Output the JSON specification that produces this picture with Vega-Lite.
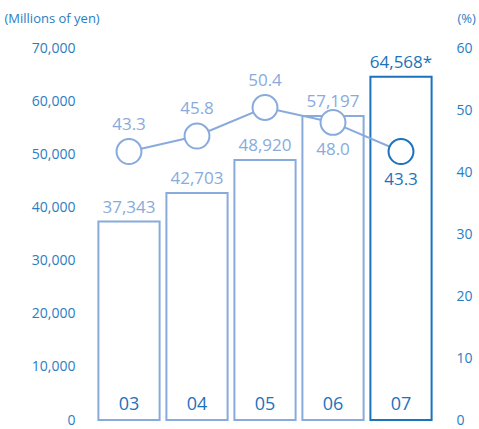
{
  "$schema": "https://vega.github.io/schema/vega-lite/v6.json",
  "autosize": "none",
  "width": 340,
  "height": 372,
  "padding": {"left": 95, "top": 48, "right": 44, "bottom": 9},
  "background": "white",
  "config": {
    "view": {"stroke": null},
    "font": "Open Sans",
    "axis": {"labelFont": "Open Sans", "titleFont": "Open Sans"}
  },
  "data": {
    "values": [
      {"year": "03", "sales": 37343, "ratio": 43.3},
      {"year": "04", "sales": 42703, "ratio": 45.8},
      {"year": "05", "sales": 48920, "ratio": 50.4},
      {"year": "06", "sales": 57197, "ratio": 48.0},
      {"year": "07", "sales": 64568, "ratio": 43.3}
    ]
  },
  "encoding": {
    "x": {
      "field": "year",
      "type": "nominal",
      "axis": null,
      "scale": {"paddingInner": 0.1, "paddingOuter": 0.05}
    }
  },
  "layer": [
    {
      "encoding": {
        "y": {
          "field": "sales",
          "type": "quantitative",
          "scale": {"domain": [0, 70000], "nice": false},
          "axis": {
            "orient": "left",
            "values": [0, 10000, 20000, 30000, 40000, 50000, 60000, 70000],
            "labelExpr": "format(datum.value, ',')",
            "grid": false,
            "domain": false,
            "ticks": false,
            "labelPadding": 20,
            "labelFontSize": 14,
            "labelColor": "#2a7dc2",
            "title": "(Millions of yen)",
            "titleAngle": 0,
            "titleAlign": "left",
            "titleBaseline": "middle",
            "titleX": -91,
            "titleY": -30,
            "titleFontSize": 13,
            "titleFontWeight": "normal",
            "titleColor": "#2a7dc2"
          }
        }
      },
      "layer": [
        {
          "mark": {"type": "bar", "fill": "white", "strokeWidth": 2, "clip": false},
          "encoding": {
            "stroke": {
              "condition": {"test": "datum.year == '07'", "value": "#1c72bb"},
              "value": "#88abdc"
            }
          }
        },
        {
          "transform": [
            {"calculate": "format(datum.sales, ',') + (datum.year == '07' ? '*' : '')", "as": "lbl"}
          ],
          "mark": {"type": "text", "baseline": "bottom", "dy": -5, "fontSize": 17},
          "encoding": {
            "text": {"field": "lbl"},
            "color": {
              "condition": {"test": "datum.year == '07'", "value": "#1c72bb"},
              "value": "#88abdc"
            }
          }
        },
        {
          "mark": {"type": "text", "baseline": "middle", "dy": -15, "fontSize": 18, "color": "#1f72ba"},
          "encoding": {
            "y": {"datum": 0, "type": "quantitative"},
            "text": {"field": "year"}
          }
        }
      ]
    },
    {
      "encoding": {
        "y": {
          "field": "ratio",
          "type": "quantitative",
          "scale": {"domain": [0, 60], "nice": false},
          "axis": {
            "orient": "right",
            "values": [0, 10, 20, 30, 40, 50, 60],
            "grid": false,
            "domain": false,
            "ticks": false,
            "labelPadding": 21,
            "labelFontSize": 14,
            "labelColor": "#2a7dc2",
            "title": "(%)",
            "titleAngle": 0,
            "titleAlign": "left",
            "titleBaseline": "middle",
            "titleX": 22,
            "titleY": -30,
            "titleFontSize": 13,
            "titleFontWeight": "normal",
            "titleColor": "#2a7dc2"
          }
        }
      },
      "layer": [
        {
          "mark": {"type": "line", "color": "#88abdc", "strokeWidth": 2}
        },
        {
          "mark": {"type": "point", "filled": true, "fill": "white", "size": 620, "strokeWidth": 2, "opacity": 1},
          "encoding": {
            "stroke": {
              "condition": {"test": "datum.year == '07'", "value": "#1c72bb"},
              "value": "#88abdc"
            }
          }
        },
        {
          "transform": [{"filter": "datum.year == '03' || datum.year == '04' || datum.year == '05'"}],
          "mark": {"type": "text", "baseline": "middle", "dy": -27, "fontSize": 17, "color": "#88abdc"},
          "encoding": {"text": {"field": "ratio", "format": ".1f"}}
        },
        {
          "transform": [{"filter": "datum.year == '06' || datum.year == '07'"}],
          "mark": {"type": "text", "baseline": "middle", "dy": 28, "fontSize": 17},
          "encoding": {
            "text": {"field": "ratio", "format": ".1f"},
            "color": {
              "condition": {"test": "datum.year == '07'", "value": "#1c72bb"},
              "value": "#88abdc"
            }
          }
        }
      ]
    }
  ],
  "resolve": {"scale": {"y": "independent"}}
}
